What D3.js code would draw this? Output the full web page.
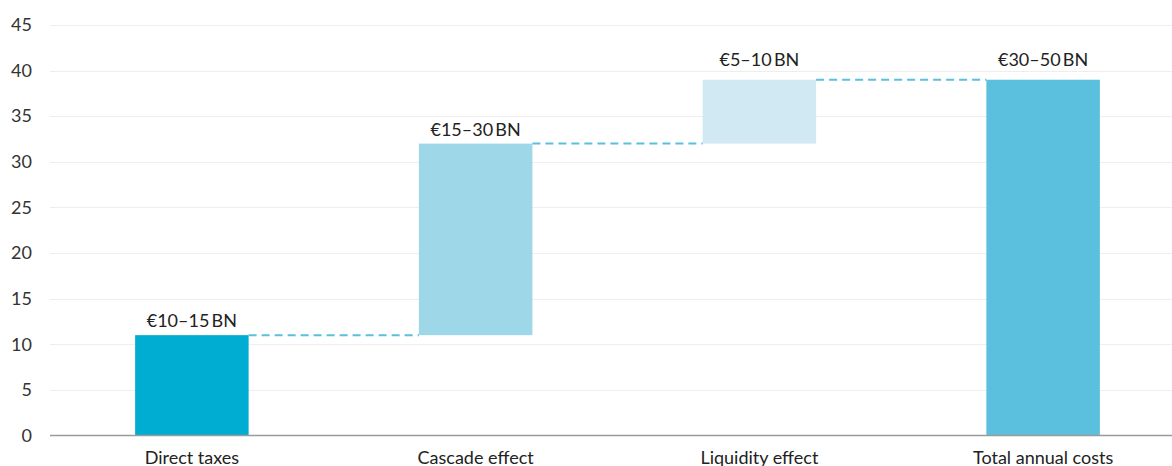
<!DOCTYPE html>
<html><head><meta charset="utf-8">
<script src="https://cdn.jsdelivr.net/npm/d3@7"></script>
<style>body{margin:0;background:#fff;} svg{display:block;font-family:Lato, "Open Sans", sans-serif;}</style>
</head><body>
<svg id="c" width="1172" height="466"></svg>
<script>
const categories = ["Direct taxes", "Cascade effect", "Liquidity effect", "Total annual costs"];
const deltas = [11, 21, 7, 39];
const isTotal = [false, false, false, true];
const labels = ["€10–15\u2009BN", "€15–30\u2009BN", "€5–10\u2009BN", "€30–50\u2009BN"];
const colors = ["#00ADD2", "#9DD7E8", "#D1E9F3", "#5BC0DD"];
const yTicks = [0, 5, 10, 15, 20, 25, 30, 35, 40, 45];

// waterfall starts/ends
let run = 0;
const steps = deltas.map((d, i) => {
  if (isTotal[i]) { run = d; return {start: 0, end: d}; }
  const s = run; run += d; return {start: s, end: run};
});

const svg = d3.select("#c");
const x = d3.scaleBand().domain(categories).range([50, 1185]).paddingInner(0.6).paddingOuter(0.3);
const y = d3.scaleLinear().domain([0, 45]).range([435.5, 25]);

// grid
svg.append("g").selectAll("line").data(yTicks.filter(t => t > 0)).join("line")
  .attr("x1", 50).attr("x2", 1172)
  .attr("y1", d => Math.round(y(d)) + 0.5).attr("y2", d => Math.round(y(d)) + 0.5)
  .attr("stroke", "#eeeeee").attr("stroke-width", 1.2);

// y axis labels
const yAxis = d3.axisLeft(y).tickValues(yTicks).tickSize(0).tickPadding(0);
const ga = svg.append("g").attr("transform", "translate(32,0)").call(yAxis);
ga.select(".domain").remove();
ga.selectAll("text").attr("font-size", 18).attr("fill", "#333").attr("font-family", "Lato, sans-serif");

// bars
svg.append("g").selectAll("rect").data(steps).join("rect")
  .attr("x", (d, i) => x(categories[i]))
  .attr("width", x.bandwidth())
  .attr("y", d => y(d.end))
  .attr("height", d => y(d.start) - y(d.end))
  .attr("fill", (d, i) => colors[i]);

// connectors
const conns = steps.slice(0, -1).map((d, i) => ({i, v: d.end}));
svg.append("g").selectAll("line").data(conns).join("line")
  .attr("x1", d => x(categories[d.i]) + x.bandwidth())
  .attr("x2", d => x(categories[d.i + 1]))
  .attr("y1", d => y(d.v)).attr("y2", d => y(d.v))
  .attr("stroke", "#5BC0DD").attr("stroke-width", 2).attr("stroke-dasharray", "8,5");

// x axis baseline
svg.append("line").attr("x1", 50).attr("x2", 1172).attr("y1", y(0)).attr("y2", y(0))
  .attr("stroke", "#9a9a9a").attr("stroke-width", 1.6);

// value labels
const labelGap = [8, 8, 14, 14];
svg.append("g").selectAll("text").data(steps).join("text")
  .attr("x", (d, i) => x(categories[i]) + x.bandwidth() / 2)
  .attr("y", (d, i) => y(d.end) - labelGap[i])
  .attr("text-anchor", "middle").attr("font-size", 18).attr("fill", "#222")
  .text((d, i) => labels[i]);

// category labels
svg.append("g").selectAll("text").data(categories).join("text")
  .attr("x", d => x(d) + x.bandwidth() / 2)
  .attr("y", 464)
  .attr("text-anchor", "middle").attr("font-size", 18).attr("fill", "#222")
  .text(d => d);
</script>
</body></html>
